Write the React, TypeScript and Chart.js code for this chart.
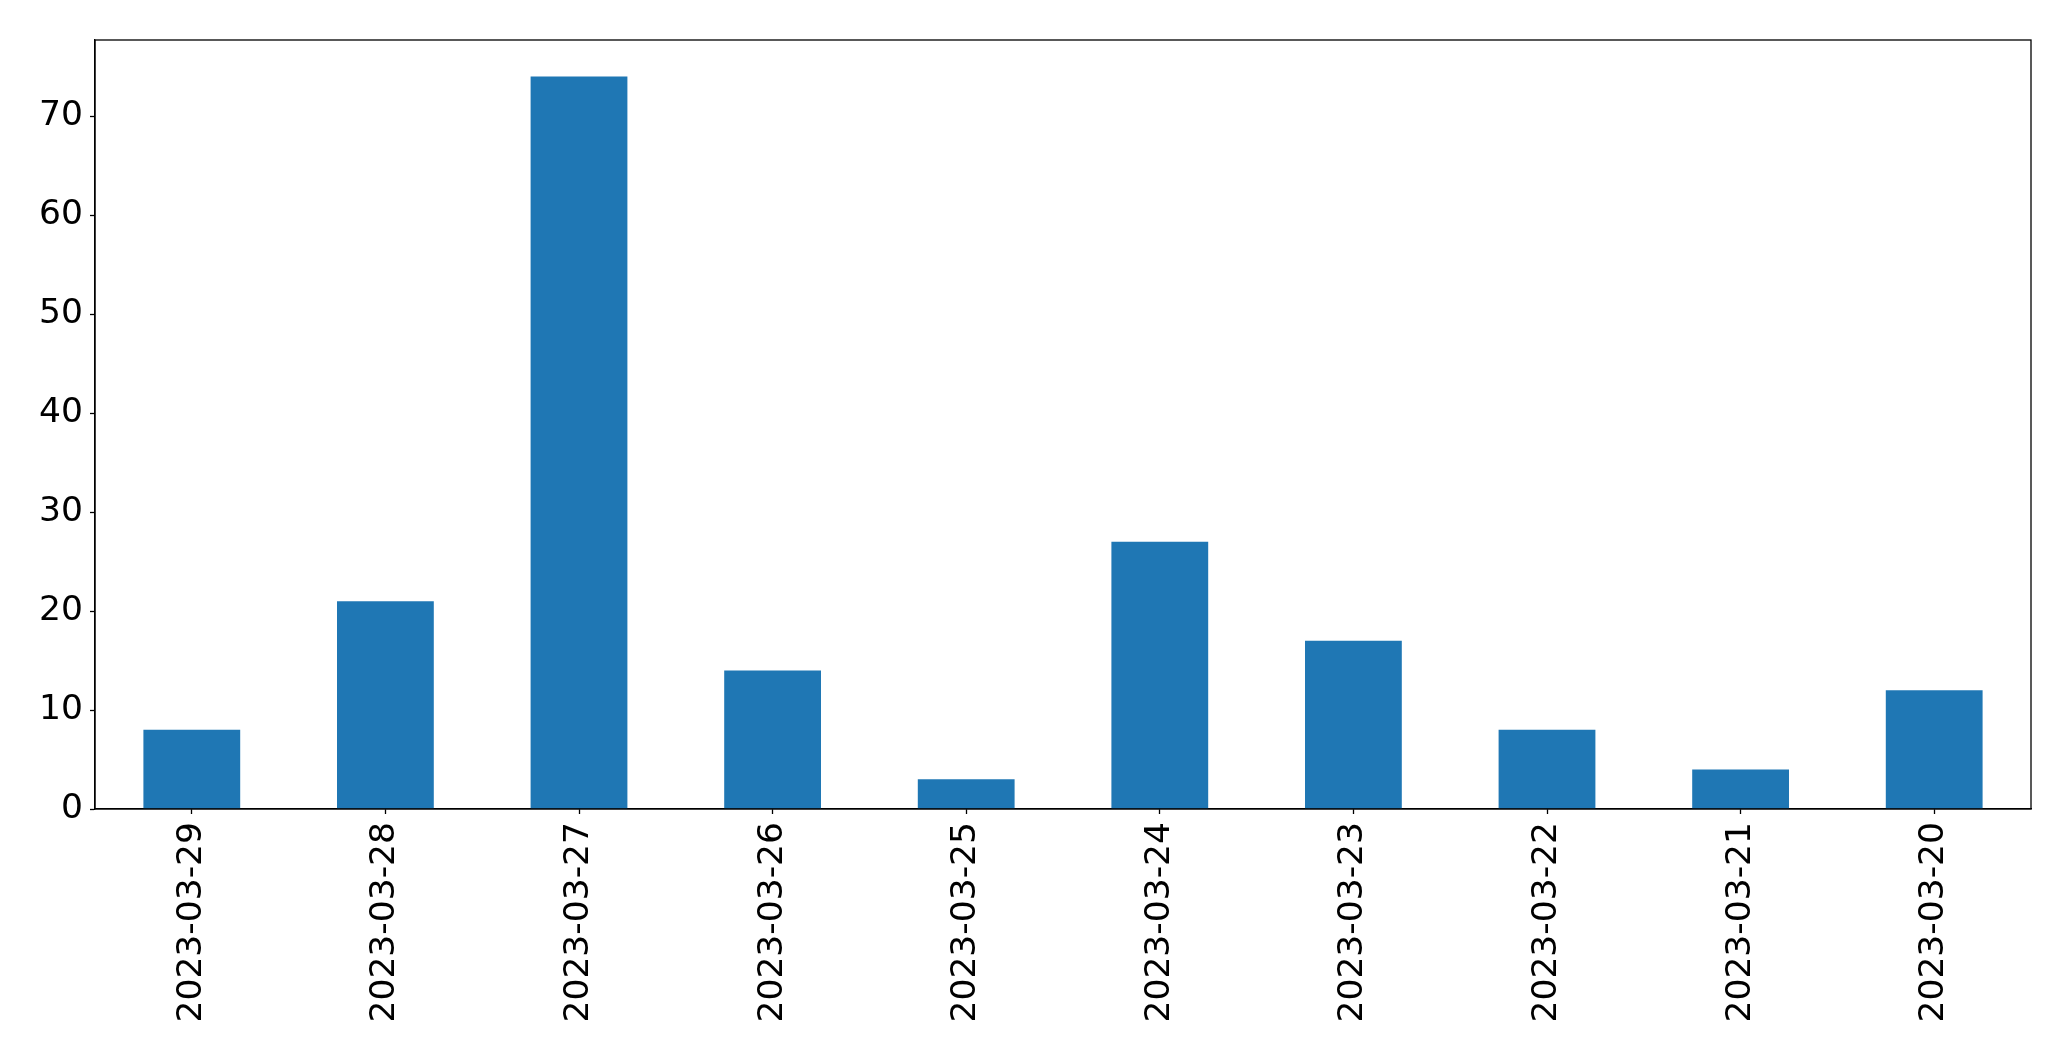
import React, { useEffect, useRef } from "react";
import { Chart, registerables } from "chart.js";

Chart.register(...registerables);

const categories = [
  "2023-03-29",
  "2023-03-28",
  "2023-03-27",
  "2023-03-26",
  "2023-03-25",
  "2023-03-24",
  "2023-03-23",
  "2023-03-22",
  "2023-03-21",
  "2023-03-20",
];
const values = [8, 21, 74, 14, 3, 27, 17, 8, 4, 12];
const yMax = 77.7;
const yStep = 10;

const W = 2071;
const H = 1061;
const AREA_LEFT = 95;
const AREA_RIGHT = 2031;
const AREA_TOP = 40;
const AREA_BOTTOM = 809;

const framePlugin = {
  id: "frame",
  afterDraw(chart: any) {
    const { ctx, chartArea } = chart;
    ctx.save();
    ctx.strokeStyle = "#000";
    ctx.lineWidth = 1.3;
    ctx.strokeRect(
      chartArea.left,
      chartArea.top,
      chartArea.right - chartArea.left,
      chartArea.bottom - chartArea.top
    );
    ctx.restore();
  },
};

export default function App() {
  const ref = useRef<HTMLCanvasElement | null>(null);

  useEffect(() => {
    document.body.style.margin = "0";
    document.body.style.overflow = "hidden";
    const canvas = ref.current;
    if (!canvas) return;
    const chart = new Chart(canvas, {
      type: "bar",
      data: {
        labels: categories,
        datasets: [
          {
            data: values,
            backgroundColor: "#1f77b4",
            borderWidth: 0,
            categoryPercentage: 1,
            barPercentage: 0.5,
          },
        ],
      },
      options: {
        animation: false,
        responsive: false,
        maintainAspectRatio: false,
        devicePixelRatio: 1,
        layout: {
          padding: { left: 0, right: W - AREA_RIGHT, top: AREA_TOP, bottom: 0 },
        },
        plugins: {
          legend: { display: false },
          tooltip: { enabled: false },
        },
        scales: {
          x: {
            offset: true,
            grid: {
              display: true,
              drawOnChartArea: false,
              drawTicks: true,
              tickLength: 5,
              tickWidth: 1.3,
              color: "#000",
              offset: false,
            },
            border: { display: true, color: "#000", width: 1.3 },
            ticks: {
              color: "#000",
              font: { family: "DejaVu Sans", size: 34.5 },
              minRotation: 90,
              maxRotation: 90,
              autoSkip: false,
              padding: 8,
            },
            afterFit: (scale: any) => {
              scale.height = H - AREA_BOTTOM;
            },
          },
          y: {
            min: 0,
            max: yMax,
            grid: {
              display: true,
              drawOnChartArea: false,
              drawTicks: true,
              tickLength: 5,
              tickWidth: 1.3,
              color: "#000",
            },
            border: { display: true, color: "#000", width: 1.3 },
            ticks: {
              stepSize: yStep,
              includeBounds: false,
              color: "#000",
              font: { family: "DejaVu Sans", size: 34.5 },
              padding: 7,
            },
            afterFit: (scale: any) => {
              scale.width = AREA_LEFT;
            },
          },
        },
      },
      plugins: [framePlugin],
    });
    return () => chart.destroy();
  }, []);

  return (
    <div style={{ width: W, height: H, background: "#fff" }}>
      <canvas ref={ref} width={W} height={H} style={{ width: W, height: H, display: "block" }} />
    </div>
  );
}
